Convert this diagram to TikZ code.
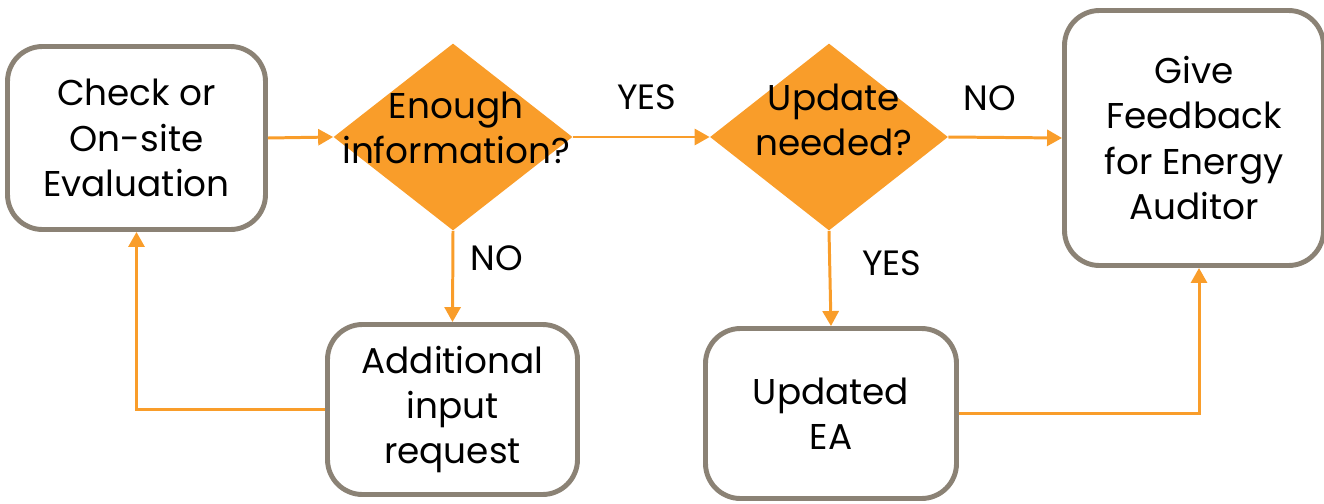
\documentclass[tikz,border=0pt]{standalone}
\usepackage{fontspec}
\setmainfont{Poppins}
\usepackage{tikz}
\usetikzlibrary{arrows.meta, positioning, shapes.geometric}
\definecolor{flow}{HTML}{F99D2A}
\definecolor{frame}{HTML}{8B8275}

\begin{document}
\begin{tikzpicture}[
    font=\fontsize{20.4}{25.8}\selectfont,
    proc/.style={draw=frame, line width=2.8pt, rounded corners=0.7cm, fill=white,
        align=center, inner sep=0pt},
    decision/.style={diamond, fill=flow, inner sep=0pt},
    qtext/.style={align=center, text=black},
    answer/.style={font=\fontsize{20}{25}\selectfont},
    arrow/.style={-{Triangle[length=3mm, width=3.2mm]}, line width=1.7pt, draw=flow}
]
\useasboundingbox (0,0) rectangle (26.48,10.06);

% Process boxes
\node[proc, minimum width=5.16cm, minimum height=3.66cm] (check) at (2.73,7.30) {Check or\\On-site\\Evaluation};
\node[proc, minimum width=5.0cm, minimum height=3.4cm] (additional) at (9.05,1.87) {Additional\\input\\request};
\node[proc, minimum width=5.02cm, minimum height=3.4cm] (updated) at (16.62,1.79) {Updated\\EA};
\node[proc, minimum width=5.18cm, minimum height=5.1cm] (feedback) at (23.88,7.30) {Give\\Feedback\\for Energy\\Auditor};

% Decisions
\node[decision, minimum width=4.78cm, minimum height=3.74cm,
    label={[qtext, xshift=0.06cm, yshift=0.18cm]center:Enough\\information?}] (enough) at (9.06,7.32) {};
\node[decision, minimum width=4.76cm, minimum height=3.74cm,
    label={[qtext, xshift=0.1cm, yshift=0.34cm]center:Update\\needed?}] (update) at (16.58,7.32) {};

% Main flow
\draw[arrow] (check.east) -- (enough.west);
\draw[arrow] (enough.east) -- (update.west);
\draw[arrow] (update.east) -- (feedback.west);

% Branches
\draw[arrow] (enough.south) -- (additional.north);
\draw[arrow] (update.south) -- (updated.north);
\draw[arrow] (additional.west) -| (check.south);
\draw[arrow] (updated.east) -| ([xshift=0.1cm]feedback.south);

% Answers
\node[answer] (yes1) at (12.94,8.12) {YES};
\node[answer] (no1) at (9.94,4.90) {NO};
\node[answer] (no2) at (19.80,8.10) {NO};
\node[answer] (yes2) at (17.84,4.80) {YES};

\end{tikzpicture}
\end{document}
